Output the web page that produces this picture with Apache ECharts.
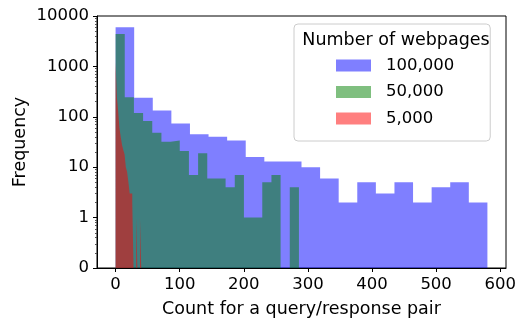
<!DOCTYPE html>
<html>
<head>
<meta charset="utf-8">
<script src="https://cdn.jsdelivr.net/npm/echarts@6/dist/echarts.min.js"></script>
<style>
  html, body { margin: 0; padding: 0; background: #fff; }
  #chart { width: 523px; height: 320px; }
</style>
</head>
<body>
<div id="chart"></div>
<script>
// histogram counts, 20 equal bins each
const names = ['100,000', '50,000', '5,000'];
const blueMax = 580;
const blueCounts = [6000, 238, 134, 74, 45, 40, 34, 16, 13, 13, 10, 6, 2, 5, 3, 5, 2, 4, 5, 2];
const greenMax = 286;
const greenCounts = [4400, 244, 119, 83, 48, 32, 34, 21, 7, 19, 6, 6, 4, 7, 1, 1, 5, 7, 0, 4];
const redMax = 40;
const redCounts = [1200, 250, 130, 60, 40, 28, 22, 18, 10, 8, 5, 3, 3, 2, 0, 0, 1, 0, 0, 1];

const xTicks = [0, 100, 200, 300, 400, 500, 600];
const yTickLabels = ['0', '1', '10', '100', '1000', '10000'];

const font = 'DejaVu Sans';

// symlog, linear below 1
function symlog(v) {
    if (v <= 0) return 0;
    if (v < 1) return v;
    return 1 + Math.log10(v);
}

// minor ticks in the same pattern as matplotlib
const yMinor = [];
for (let d = 0; d < 5; d++) {
    for (let k = 2; k <= 9; k++) yMinor.push(d + Math.log10(k));
}

function histSeries(name, counts, maxVal, color) {
    const w = maxVal / counts.length;
    const pts = counts.map((c, i) => [i * w, symlog(c)]);
    pts.push([maxVal, symlog(counts[counts.length - 1])]);
    return {
        name: name,
        type: 'line',
        step: 'end',
        data: pts,
        showSymbol: false,
        symbol: 'none',
        lineStyle: { width: 0, color: color },
        itemStyle: { color: color },
        areaStyle: { color: color, opacity: 1 },
        silent: true
    };
}

var myChart = echarts.init(document.getElementById('chart'), null, { renderer: 'canvas' });

const option = {
    animation: false,
    textStyle: { fontFamily: font },
    grid: {
        left: 97, right: 17, top: 16, bottom: 52,
        outerBoundsMode: 'none',
        show: true, borderColor: '#000', borderWidth: 1
    },
    legend: {
        orient: 'vertical',
        left: 294, top: 24,
        padding: [33, 36, 14, 42],
        backgroundColor: 'rgba(255,255,255,0.8)',
        borderColor: '#cccccc', borderWidth: 1, borderRadius: 4,
        icon: 'rect',
        itemWidth: 35, itemHeight: 12, itemGap: 9.5,
        textStyle: { fontFamily: font, fontSize: 16.5, color: '#000', padding: [0, 0, 0, 10] },
        data: names
    },
    graphic: [{
        type: 'text',
        z: 100,
        x: 396, y: 40,
        style: {
            text: 'Number of webpages',
            font: '17.5px "DejaVu Sans"',
            fill: '#000',
            align: 'center',
            verticalAlign: 'middle'
        }
    }],
    xAxis: {
        type: 'value',
        min: -29, max: 609,
        name: 'Count for a query/response pair',
        nameLocation: 'middle',
        nameGap: 32,
        nameMoveOverlap: false,
        nameTextStyle: { fontFamily: font, fontSize: 17.5, color: '#000' },
        axisLine: { onZero: false, lineStyle: { color: '#000' } },
        axisTick: { show: true, length: 4, customValues: xTicks, lineStyle: { color: '#000' } },
        axisLabel: { customValues: xTicks, fontFamily: font, fontSize: 16.5, color: '#000', margin: 8 },
        splitLine: { show: false }
    },
    yAxis: [{
        type: 'value',
        min: 0, max: 5,
        name: 'Frequency',
        nameLocation: 'middle',
        nameGap: 68,
        nameMoveOverlap: false,
        nameTextStyle: { fontFamily: font, fontSize: 17.5, color: '#000' },
        axisLine: { show: true, onZero: false, lineStyle: { color: '#000' } },
        axisTick: { show: true, length: 4, customValues: [0, 1, 2, 3, 4, 5], lineStyle: { color: '#000' } },
        axisLabel: {
            customValues: [0, 1, 2, 3, 4, 5],
            formatter: v => yTickLabels[Math.round(v)],
            fontFamily: font, fontSize: 16.5, color: '#000', margin: 8
        },
        splitLine: { show: false }
    }, {
        type: 'value',
        min: 0, max: 5,
        position: 'left',
        axisLine: { show: false, onZero: false },
        axisTick: { show: true, length: 2, customValues: yMinor, lineStyle: { color: '#555' } },
        axisLabel: { show: false },
        splitLine: { show: false }
    }],
    series: [
        histSeries(names[0], blueCounts, blueMax, 'rgba(0,0,255,0.5)'),
        histSeries(names[1], greenCounts, greenMax, 'rgba(0,128,0,0.5)'),
        histSeries(names[2], redCounts, redMax, 'rgba(255,0,0,0.5)')
    ]
};

myChart.setOption(option);
window.addEventListener('resize', myChart.resize);
</script>
</body>
</html>
